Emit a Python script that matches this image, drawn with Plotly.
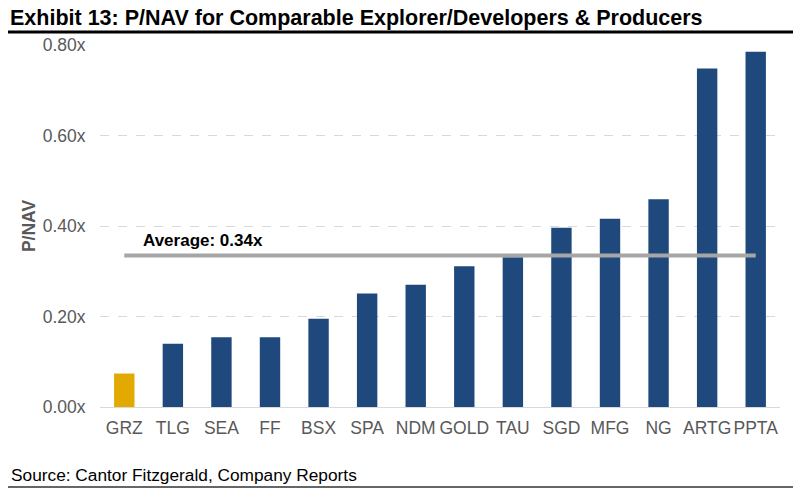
import plotly.graph_objects as go

categories = ["GRZ", "TLG", "SEA", "FF", "BSX", "SPA", "NDM", "GOLD", "TAU", "SGD", "MFG", "NG", "ARTG", "PPTA"]
pnav = [0.074, 0.140, 0.154, 0.154, 0.195, 0.251, 0.270, 0.311, 0.331, 0.396, 0.416, 0.459, 0.748, 0.785]
average = 0.335
average_label = "Average: 0.34x"
tick_vals = [0.0, 0.2, 0.4, 0.6, 0.8]
tick_text = ["0.00x", "0.20x", "0.40x", "0.60x", "0.80x"]

NAVY = "#1F497D"
GOLD = "#E2A900"
colors = [GOLD] + [NAVY] * (len(categories) - 1)

W, H = 800, 497
L, R, T, B = 100, 20, 45, 90

def px(x):
    return (x - L) / (W - L - R)

def py(y):
    return (H - B - y) / (H - T - B)

fig = go.Figure()
fig.add_trace(go.Bar(x=categories, y=pnav, marker=dict(color=colors, line=dict(width=0)),
                     width=0.42, showlegend=False, hoverinfo="x+y"))
fig.add_trace(go.Scatter(x=[categories[0], categories[-1]], y=[average, average], mode="lines",
                         line=dict(color="#A6A6A6", width=4), showlegend=False))

fig.update_layout(
    width=W, height=H,
    margin=dict(l=L, r=R, t=T, b=B),
    paper_bgcolor="white", plot_bgcolor="white",
    font=dict(family="Liberation Sans, Arial, sans-serif", color="#595959"),
    xaxis=dict(showgrid=False, tickfont=dict(size=17.5, color="#595959"), showline=True,
               linecolor="#D9D9D9", linewidth=1, ticks="outside", ticklen=5,
               tickcolor="rgba(0,0,0,0)", fixedrange=True),
    yaxis=dict(range=[0, 0.8], tickvals=tick_vals, ticktext=tick_text,
               tickfont=dict(size=17.5, color="#595959"), showgrid=True,
               gridcolor="#D9D9D9", griddash="dash", gridwidth=1, zeroline=False,
               ticks="outside", ticklen=10, tickcolor="rgba(0,0,0,0)",
               title=dict(text="<b>P/NAV</b>", font=dict(size=17.5, color="#595959"), standoff=2)),
    annotations=[
        dict(text="<b>Exhibit 13: P/NAV for Comparable Explorer/Developers &amp; Producers</b>",
             xref="paper", yref="paper", x=px(8), y=py(18), xanchor="left", yanchor="middle",
             showarrow=False, font=dict(size=21.5, color="black")),
        dict(text="Source: Cantor Fitzgerald, Company Reports",
             xref="paper", yref="paper", x=px(9), y=py(475), xanchor="left", yanchor="middle",
             showarrow=False, font=dict(size=17.3, color="black")),
        dict(text="<b>" + average_label + "</b>", xref="paper", yref="y", x=px(141), y=0.368,
             xanchor="left", yanchor="middle", showarrow=False, font=dict(size=17, color="black")),
    ],
    shapes=[
        dict(type="line", xref="paper", yref="paper", x0=px(8), x1=px(793), y0=py(32), y1=py(32),
             line=dict(color="black", width=3)),
        dict(type="line", xref="paper", yref="paper", x0=px(8), x1=px(793), y0=py(487), y1=py(487),
             line=dict(color="#333333", width=1.5)),
    ],
)

fig.write_html("out.html")
